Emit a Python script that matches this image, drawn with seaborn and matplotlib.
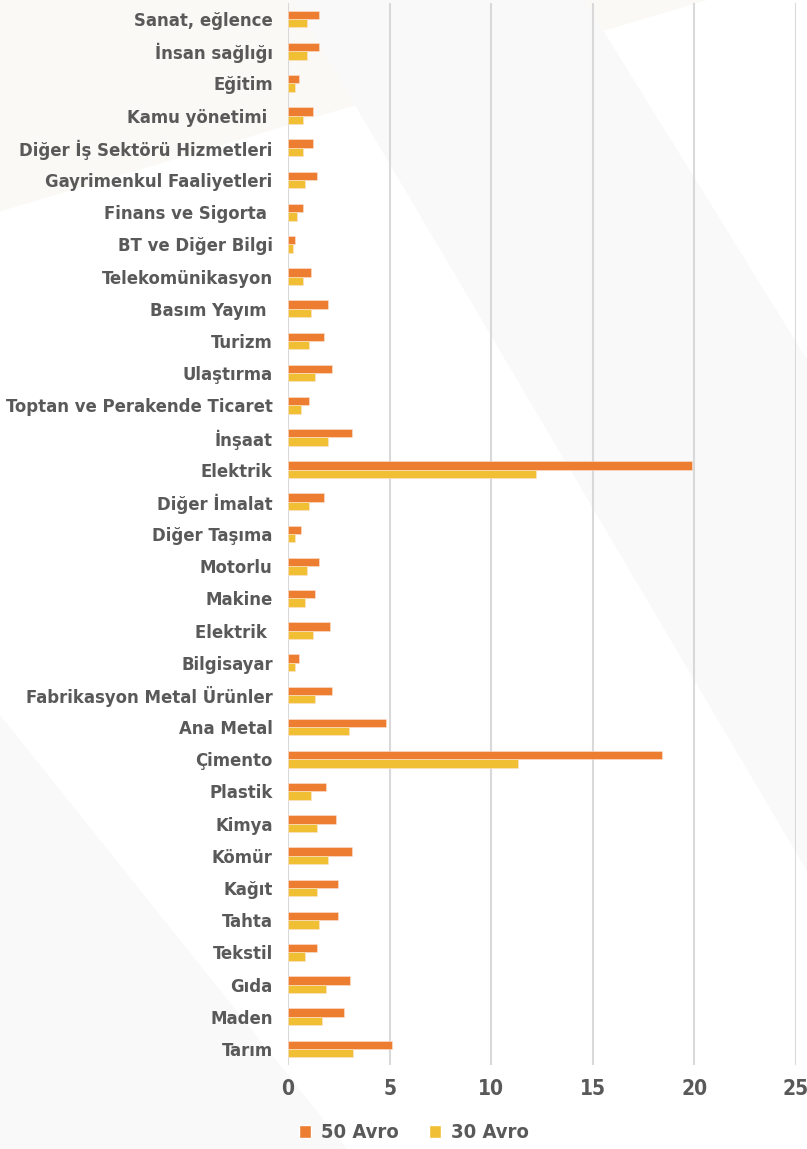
import numpy as np
import pandas as pd
import matplotlib
matplotlib.use("Agg")
import matplotlib.pyplot as plt
import seaborn as sns
from matplotlib.patches import Polygon, Patch

# -------------------
# Data (top to bottom)
sectors = [
    "Sanat, eğlence", "İnsan sağlığı", "Eğitim", "Kamu yönetimi ",
    "Diğer İş Sektörü Hizmetleri", "Gayrimenkul Faaliyetleri", "Finans ve Sigorta ",
    "BT ve Diğer Bilgi", "Telekomünikasyon", "Basım Yayım ", "Turizm", "Ulaştırma",
    "Toptan ve Perakende Ticaret", "İnşaat", "Elektrik", "Diğer İmalat",
    "Diğer Taşıma", "Motorlu", "Makine", "Elektrik ", "Bilgisayar",
    "Fabrikasyon Metal Ürünler", "Ana Metal", "Çimento", "Plastik", "Kimya",
    "Kömür", "Kağıt", "Tahta", "Tekstil", "Gıda", "Maden", "Tarım",
]
avro50 = [1.55, 1.55, 0.55, 1.25, 1.25, 1.45, 0.75, 0.33, 1.15, 1.95, 1.75, 2.15,
          1.05, 3.15, 19.9, 1.75, 0.63, 1.55, 1.35, 2.05, 0.55, 2.15, 4.8, 18.4,
          1.85, 2.35, 3.15, 2.45, 2.45, 1.45, 3.05, 2.75, 5.1]
avro30 = [0.93, 0.93, 0.35, 0.73, 0.73, 0.83, 0.43, 0.23, 0.73, 1.15, 1.05, 1.35,
          0.63, 1.95, 12.2, 1.05, 0.33, 0.93, 0.83, 1.25, 0.33, 1.35, 3.0, 11.3,
          1.15, 1.45, 1.95, 1.45, 1.55, 0.83, 1.85, 1.65, 3.2]
series_names = ["50 Avro", "30 Avro"]
x_ticks = [0, 5, 10, 15, 20, 25]

orange = "#ED7D31"
yellow = "#F0BF33"
text_col = "#595959"

df = pd.DataFrame({"sector": sectors, "50 Avro": avro50, "30 Avro": avro30})
long_df = df.melt(id_vars="sector", var_name="seri", value_name="deger")

# -------------------
# Figure
sns.set_style("white")
plt.rcParams["font.family"] = ["DejaVu Sans"]
fig = plt.figure(figsize=(8.07, 11.49), dpi=100)

# faint background shapes (behind everything)
bg = [
    ([(0, 1), (0.876, 1), (0, 0.816)], "#FBF9F5"),
    ([(0.363, 1), (0.724, 1), (1, 0.687), (1, 0.242)], "#F9F9F9"),
    ([(0, 0.378), (0, 0), (0.43, 0)], "#F9F9F9"),
]
for pts, c in bg:
    fig.patches.append(Polygon(pts, closed=True, transform=fig.transFigure,
                               facecolor=c, edgecolor="none", zorder=-10))

ax = fig.add_axes([288 / 807, 1 - 1065 / 1149, (796 - 288) / 807, (1065 - 3) / 1149])
ax.patch.set_alpha(0)

sns.barplot(data=long_df, y="sector", x="deger", hue="seri", hue_order=series_names,
            palette=[orange, yellow], saturation=1, orient="h", width=0.52, gap=0,
            edgecolor="#FBE3D3", linewidth=0.4, ax=ax, legend=False)

ax.set_xlim(0, 25)
ax.set_ylim(len(sectors) - 0.5, -0.5)
ax.set_xticks(x_ticks)
ax.xaxis.grid(True, color="#D9D9D9", linewidth=1.5)
ax.set_axisbelow(True)
for s in ax.spines.values():
    s.set_visible(False)
ax.set_xlabel("")
ax.set_ylabel("")
ax.tick_params(axis="both", length=0)
ax.tick_params(axis="y", pad=11)
ax.tick_params(axis="x", pad=10)

for lab in ax.get_yticklabels():
    lab.set_fontsize(13.2)
    lab.set_fontweight("bold")
    lab.set_fontstretch("condensed")
    lab.set_color(text_col)
for lab in ax.get_xticklabels():
    lab.set_fontsize(15)
    lab.set_fontweight("bold")
    lab.set_fontstretch("condensed")
    lab.set_color(text_col)

handles = [Patch(facecolor=orange, label=series_names[0]),
           Patch(facecolor=yellow, label=series_names[1])]
fig.legend(handles=handles, loc="center", bbox_to_anchor=(0.513, 1 - 1133 / 1149),
           ncol=2, frameon=False, handlelength=0.6, handleheight=0.6,
           handletextpad=0.5, columnspacing=1.5,
           prop={"size": 14.5, "weight": "bold", "stretch": "condensed"},
           labelcolor=text_col)

fig.savefig("out.png", dpi=100)
